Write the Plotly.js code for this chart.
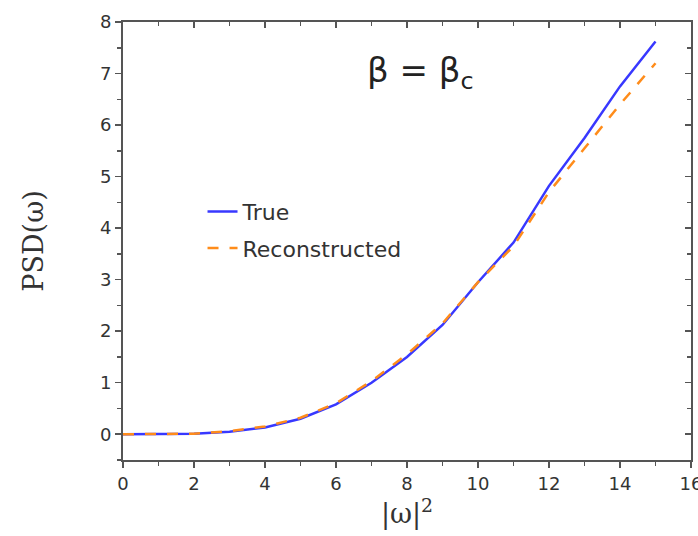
<!DOCTYPE html>
<html>
<head>
<meta charset="utf-8">
<script src="https://cdn.plot.ly/plotly-3.0.1.min.js"></script>
<style>html,body{margin:0;padding:0;background:#fff;}#chart{width:698px;height:536px;}</style>
</head>
<body>
<div id="chart"></div>
<script>
const omegaSq = [0, 1, 2, 3, 4, 5, 6, 7, 8, 9, 10, 11, 12, 13, 14, 15];
const psdTrue = [0, 0, 0.01, 0.05, 0.13, 0.3, 0.58, 1.0, 1.5, 2.12, 2.95, 3.72, 4.82, 5.75, 6.75, 7.62];
const psdRecon = [0, 0, 0.01, 0.06, 0.15, 0.32, 0.6, 1.03, 1.55, 2.15, 2.95, 3.65, 4.7, 5.55, 6.4, 7.2];
const seriesNames = ["True", "Reconstructed"];
const xTicks = [0, 2, 4, 6, 8, 10, 12, 14, 16];
const yTicks = [0, 1, 2, 3, 4, 5, 6, 7, 8];

const axisColor = "#555";
const sans = "DejaVu Sans, Liberation Sans, Arial, sans-serif";
const serif = "DejaVu Serif, Liberation Serif, serif";
const tickFont = {family: sans, size: 18, color: "#333"};

const traces = [
  {x: omegaSq, y: psdTrue, name: seriesNames[0], mode: "lines",
   line: {color: "#3838ff", width: 2.5}, legendgroup: "a"},
  {x: omegaSq, y: psdRecon, name: seriesNames[1], mode: "lines",
   line: {color: "#ff8c1a", width: 2.5, dash: "11px,11px"}, legendgroup: "b"},
  {x: [], y: [], xaxis: "x2", yaxis: "y2", showlegend: false, hoverinfo: "skip"}
];

const layout = {
  width: 698, height: 536,
  margin: {l: 123, r: 7, t: 22, b: 76},
  paper_bgcolor: "#fff", plot_bgcolor: "#fff",
  showlegend: true,
  legend: {x: 0.14, y: 0.615, xanchor: "left", yanchor: "top",
    font: {family: sans, size: 22, color: "#333"},
    bgcolor: "rgba(0,0,0,0)", traceorder: "grouped", tracegroupgap: 5},
  xaxis: {range: [0, 16], tickvals: xTicks, ticktext: xTicks.map(String),
    ticklabeloverflow: "allow",
    showgrid: false, zeroline: false, showline: true, linecolor: axisColor, linewidth: 2,
    mirror: true, ticks: "outside", ticklen: 6, tickwidth: 1.5, tickcolor: axisColor,
    minor: {dtick: 1, ticks: "outside", ticklen: 4, tickcolor: axisColor, tickwidth: 1.5},
    tickfont: tickFont,
    title: {text: "|ω|<sup>2</sup>", font: {family: serif, size: 27, color: "#333"}, standoff: 9}},
  yaxis: {range: [-0.5, 8], tickvals: yTicks, ticktext: yTicks.map(String),
    showgrid: false, zeroline: false, showline: true, linecolor: axisColor, linewidth: 2,
    mirror: true, ticks: "outside", ticklen: 6, tickwidth: 1.5, tickcolor: axisColor,
    minor: {dtick: 0.5, ticks: "outside", ticklen: 4, tickcolor: axisColor, tickwidth: 1.5},
    tickfont: tickFont,
    title: {text: "PSD(ω)", font: {family: serif, size: 27, color: "#333"}, standoff: 48}},
  xaxis2: {range: [0, 16], overlaying: "x", side: "top", anchor: "y2",
    tickvals: xTicks, showticklabels: false, showgrid: false, zeroline: false,
    ticks: "inside", ticklen: 6, tickwidth: 1.5, tickcolor: axisColor,
    minor: {dtick: 1, ticks: "inside", ticklen: 4, tickcolor: axisColor, tickwidth: 1.5}},
  yaxis2: {range: [-0.5, 8], overlaying: "y", side: "right", anchor: "x2",
    tickvals: yTicks, showticklabels: false, showgrid: false, zeroline: false,
    ticks: "inside", ticklen: 6, tickwidth: 1.5, tickcolor: axisColor,
    minor: {dtick: 0.5, ticks: "inside", ticklen: 4, tickcolor: axisColor, tickwidth: 1.5}},
  annotations: [{xref: "paper", yref: "paper", x: 0.523, y: 0.885, xanchor: "center", yanchor: "middle",
    text: "β = β<sub>c</sub>", showarrow: false,
    font: {family: sans, size: 34, color: "#222"}}]
};

Plotly.newPlot("chart", traces, layout, {staticPlot: true, displayModeBar: false});
</script>
</body>
</html>
